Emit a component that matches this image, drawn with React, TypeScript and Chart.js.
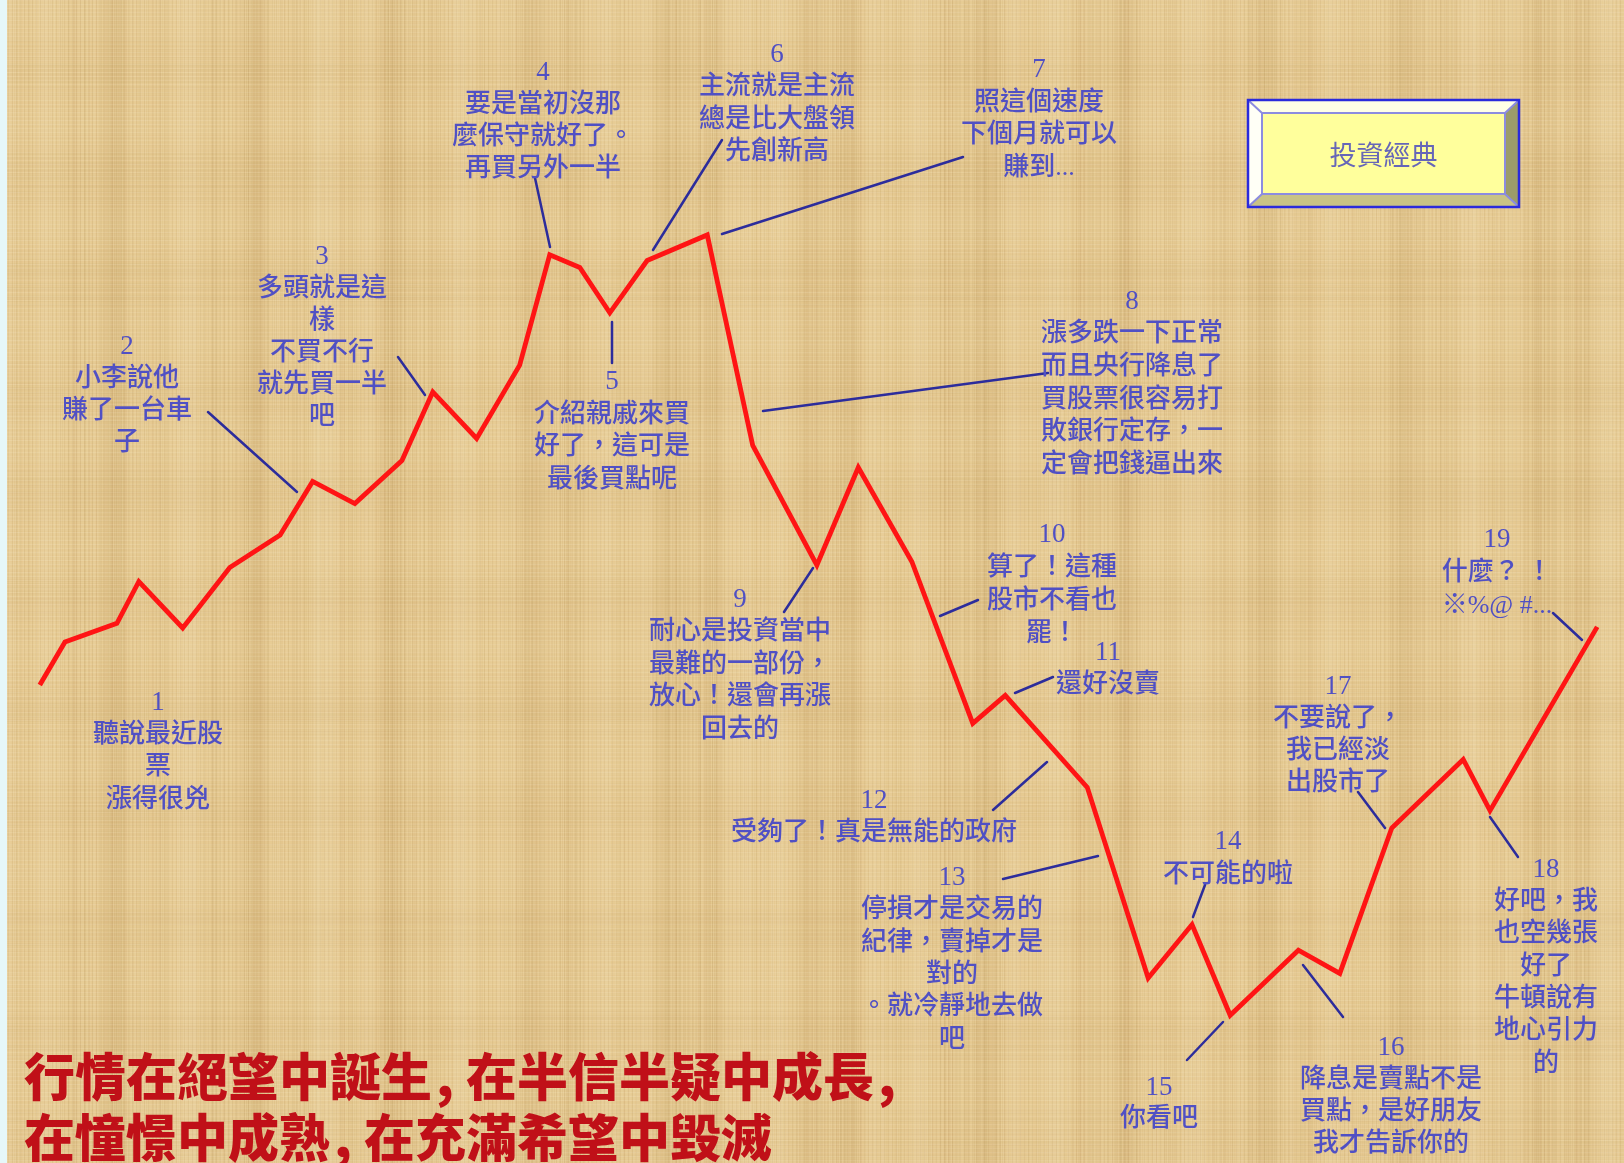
import React, { useEffect, useRef } from "react";
import { Chart, registerables } from "chart.js";

Chart.register(...registerables);

// ---- data: market index path (x = trading period, y = index level) ----
const days = [
  4.9, 8.0, 14.4, 17.1, 22.5, 28.3, 34.5, 38.5, 43.7, 49.5, 53.3, 58.7, 64.0, 67.7,
  71.4, 75.1, 79.7, 87.1, 92.7, 100.6, 105.7, 112.3, 119.8, 123.8, 133.9, 141.4,
  146.8, 151.5, 159.9, 165.0, 171.4, 180.2, 183.5, 196.7,
];
const indexLevel = [
  41.1, 44.8, 46.4, 50.0, 46.0, 51.2, 54.0, 58.6, 56.7, 60.4, 66.3, 62.3, 68.6, 78.1,
  77.0, 73.1, 77.6, 79.8, 61.7, 51.4, 59.8, 51.7, 37.8, 40.2, 32.3, 15.9, 20.5, 12.7,
  18.3, 16.3, 28.8, 34.7, 30.3, 46.1,
];

const X_MIN = 0;
const X_MAX = 200;
const Y_MIN = 0;
const Y_MAX = 100;

// ---- annotation texts ----
const noteNumbers = ["1", "2", "3", "4", "5", "6", "7", "8", "9", "10", "11", "12", "13", "14", "15", "16", "17", "18", "19"];
const noteTexts: string[][] = [
  ["聽說最近股", "票", "漲得很兇"],
  ["小李說他", "賺了一台車", "子"],
  ["多頭就是這", "樣", "不買不行", "就先買一半", "吧"],
  ["要是當初沒那", "麼保守就好了。", "再買另外一半"],
  ["介紹親戚來買", "好了，這可是", "最後買點呢"],
  ["主流就是主流", "總是比大盤領", "先創新高"],
  ["照這個速度", "下個月就可以", "賺到..."],
  ["漲多跌一下正常", "而且央行降息了", "買股票很容易打", "敗銀行定存，一", "定會把錢逼出來"],
  ["耐心是投資當中", "最難的一部份，", "放心！還會再漲", "回去的"],
  ["算了！這種", "股市不看也", "罷！"],
  ["還好沒賣"],
  ["受夠了！真是無能的政府"],
  ["停損才是交易的", "紀律，賣掉才是", "對的", "。就冷靜地去做", "吧"],
  ["不可能的啦"],
  ["你看吧"],
  ["降息是賣點不是", "買點，是好朋友", "我才告訴你的"],
  ["不要說了，", "我已經淡", "出股市了"],
  ["好吧，我", "也空幾張", "好了", "牛頓說有", "地心引力", "的"],
  ["什麼？ ！", "※%@ #..."],
];
const titleText = "投資經典";
const mottoLine1 = ["行情在絕望中誕生", "在半信半疑中成長"];
const mottoLine2 = ["在憧憬中成熟", "在充滿希望中毀滅"];

// ---- layout of annotations (pixel positions of text blocks and leader lines) ----
type Layout = { x: number; y: number; lh: number; leader?: [number, number, number, number] };
const noteLayout: Layout[] = [
  { x: 158, y: 703, lh: 32.3 },
  { x: 127, y: 347, lh: 32, leader: [208, 412, 297, 492] },
  { x: 322, y: 257, lh: 32, leader: [398, 357, 425, 395] },
  { x: 543, y: 73, lh: 32, leader: [535, 178, 550, 247] },
  { x: 612, y: 382, lh: 32.7, leader: [612, 322, 612, 363] },
  { x: 777, y: 55, lh: 32.5, leader: [722, 140, 653, 250] },
  { x: 1039, y: 70, lh: 32.7, leader: [963, 157, 722, 234] },
  { x: 1132, y: 302, lh: 32.6, leader: [1048, 373, 763, 411] },
  { x: 740, y: 600, lh: 32.5, leader: [784, 612, 813, 568] },
  { x: 1052, y: 535, lh: 33, leader: [978, 600, 940, 616] },
  { x: 1108, y: 653, lh: 32, leader: [1053, 677, 1015, 693] },
  { x: 874, y: 801, lh: 32, leader: [1047, 762, 993, 810] },
  { x: 952, y: 878, lh: 32.4, leader: [1003, 879, 1098, 856] },
  { x: 1228, y: 842, lh: 33, leader: [1205, 885, 1193, 917] },
  { x: 1159, y: 1088, lh: 31, leader: [1223, 1022, 1187, 1060] },
  { x: 1391, y: 1048, lh: 32, leader: [1303, 965, 1343, 1017] },
  { x: 1338, y: 687, lh: 32, leader: [1358, 792, 1385, 828] },
  { x: 1546, y: 870, lh: 32.3, leader: [1490, 817, 1518, 857] },
  { x: 1497, y: 540, lh: 33, leader: [1553, 613, 1582, 640] },
];

const W = 1624;
const H = 1163;

function hash(n: number) {
  const s = Math.sin(n * 127.1 + 311.7) * 43758.5453;
  return s - Math.floor(s);
}

function drawPaper(ctx: CanvasRenderingContext2D, w: number, h: number) {
  ctx.fillStyle = "#E6CA92";
  ctx.fillRect(0, 0, w, h);
  for (let x = 0; x < w; x++) {
    const band = 0.5 * Math.sin(x / 23.0) + 0.35 * Math.sin(x / 7.3 + 1.3) + (hash(x) - 0.5) * 1.1;
    const a = Math.min(0.2, Math.abs(band) * 0.12);
    ctx.fillStyle = band > 0 ? `rgba(255,246,220,${a})` : `rgba(150,105,40,${a})`;
    ctx.fillRect(x, 0, 1, h);
  }
  for (let y = 0; y < h; y++) {
    const band = 0.4 * Math.sin(y / 17.0 + 0.7) + (hash(y + 5000) - 0.5) * 0.9;
    const a = Math.min(0.1, Math.abs(band) * 0.07);
    ctx.fillStyle = band > 0 ? `rgba(255,246,220,${a})` : `rgba(150,105,40,${a})`;
    ctx.fillRect(0, y, w, 1);
  }
  ctx.fillStyle = "rgba(255,250,232,0.12)";
  for (let y = 0; y < h; y += 4) ctx.fillRect(0, y, w, 1);
  ctx.fillStyle = "rgba(140,100,40,0.07)";
  for (let x = 0; x < w; x += 4) ctx.fillRect(x, 0, 1, h);
  ctx.fillStyle = "#E6F7F9";
  ctx.fillRect(0, 0, 7, h);
}

function drawLeaders(ctx: CanvasRenderingContext2D) {
  ctx.save();
  ctx.strokeStyle = "#2C2C9C";
  ctx.lineWidth = 2.5;
  ctx.lineCap = "round";
  noteLayout.forEach((l) => {
    if (!l.leader) return;
    const [x1, y1, x2, y2] = l.leader;
    ctx.beginPath();
    ctx.moveTo(x1, y1);
    ctx.lineTo(x2, y2);
    ctx.stroke();
  });
  ctx.restore();
}

function drawNotes(ctx: CanvasRenderingContext2D) {
  ctx.save();
  ctx.fillStyle = "#5050C4";
  ctx.textAlign = "center";
  ctx.textBaseline = "middle";
  noteLayout.forEach((l, i) => {
    const lines = [noteNumbers[i], ...noteTexts[i]];
    lines.forEach((s, j) => {
      ctx.font = j === 0 ? '27px "Liberation Serif", serif' : '500 26px "Liberation Serif", "Noto Sans CJK TC", sans-serif';
      ctx.fillText(s, l.x, l.y + j * l.lh);
    });
  });
  ctx.restore();
}

function drawTitleBox(ctx: CanvasRenderingContext2D) {
  const ox1 = 1248, oy1 = 100, ox2 = 1519, oy2 = 207;
  const ix1 = 1262, iy1 = 113, ix2 = 1505, iy2 = 194;
  const poly = (pts: number[][], fill: string) => {
    ctx.beginPath();
    ctx.moveTo(pts[0][0], pts[0][1]);
    for (let k = 1; k < pts.length; k++) ctx.lineTo(pts[k][0], pts[k][1]);
    ctx.closePath();
    ctx.fillStyle = fill;
    ctx.fill();
  };
  ctx.save();
  poly([[ox1, oy1], [ox2, oy1], [ix2, iy1], [ix1, iy1]], "#FFFFE6");
  poly([[ox1, oy1], [ix1, iy1], [ix1, iy2], [ox1, oy2]], "#FFFFF6");
  poly([[ox2, oy1], [ox2, oy2], [ix2, iy2], [ix2, iy1]], "#9C9C6A");
  poly([[ox1, oy2], [ix1, iy2], [ix2, iy2], [ox2, oy2]], "#C9C385");
  ctx.fillStyle = "#FFFF9C";
  ctx.fillRect(ix1, iy1, ix2 - ix1, iy2 - iy1);
  ctx.strokeStyle = "#8C8CE0";
  ctx.lineWidth = 2;
  ctx.strokeRect(ix1, iy1, ix2 - ix1, iy2 - iy1);
  ctx.beginPath();
  ctx.moveTo(ox1, oy1); ctx.lineTo(ix1, iy1);
  ctx.moveTo(ox2, oy1); ctx.lineTo(ix2, iy1);
  ctx.moveTo(ox1, oy2); ctx.lineTo(ix1, iy2);
  ctx.moveTo(ox2, oy2); ctx.lineTo(ix2, iy2);
  ctx.stroke();
  ctx.strokeStyle = "#2A2ADC";
  ctx.lineWidth = 2.5;
  ctx.strokeRect(ox1, oy1, ox2 - ox1, oy2 - oy1);
  ctx.fillStyle = "#6666B8";
  ctx.font = '27px "Noto Sans CJK TC", sans-serif';
  ctx.textAlign = "center";
  ctx.textBaseline = "middle";
  ctx.fillText(titleText, (ox1 + ox2) / 2, 155);
  ctx.restore();
}

function drawMotto(ctx: CanvasRenderingContext2D) {
  ctx.save();
  ctx.fillStyle = "#C01018";
  ctx.font = '900 51px "Noto Sans CJK TC", sans-serif';
  ctx.textAlign = "left";
  ctx.textBaseline = "middle";
  const cw = 51;
  const gap = 34;
  const row = (parts: string[], y: number, trailing: boolean) => {
    let x = 24;
    parts.forEach((p, k) => {
      ctx.fillText(p, x, y);
      x += p.length * cw;
      if (k < parts.length - 1 || trailing) {
        ctx.fillText(",", x + 4, y);
        x += gap;
      }
    });
  };
  row(mottoLine1, 1077, true);
  row(mottoLine2, 1138, false);
  ctx.restore();
}

const decorPlugin = {
  id: "decor",
  beforeDraw(chart: any) {
    drawPaper(chart.ctx, chart.width, chart.height);
  },
  beforeDatasetsDraw(chart: any) {
    drawLeaders(chart.ctx);
  },
  afterDraw(chart: any) {
    const ctx = chart.ctx;
    drawNotes(ctx);
    drawTitleBox(ctx);
    drawMotto(ctx);
  },
};

export default function App() {
  const ref = useRef<HTMLCanvasElement | null>(null);
  useEffect(() => {
    if (!ref.current) return;
    const chart = new Chart(ref.current, {
      type: "line",
      data: {
        datasets: [
          {
            data: days.map((d, i) => ({ x: d, y: indexLevel[i] })),
            borderColor: "#FF1414",
            borderWidth: 4.8,
            pointRadius: 0,
            tension: 0,
            fill: false,
            clip: false as any,
          } as any,
        ],
      },
      options: {
        responsive: false,
        animation: false,
        devicePixelRatio: 1,
        events: [],
        layout: { padding: 0, autoPadding: false } as any,
        plugins: { legend: { display: false }, tooltip: { enabled: false } },
        scales: {
          x: { type: "linear", min: X_MIN, max: X_MAX, display: false },
          y: { type: "linear", min: Y_MIN, max: Y_MAX, display: false },
        },
      },
      plugins: [decorPlugin],
    });
    return () => chart.destroy();
  }, []);
  return (
    <div style={{ position: "absolute", left: 0, top: 0, width: W, height: H, overflow: "hidden" }}>
      <canvas ref={ref} width={W} height={H} style={{ display: "block", width: W, height: H }} />
    </div>
  );
}
